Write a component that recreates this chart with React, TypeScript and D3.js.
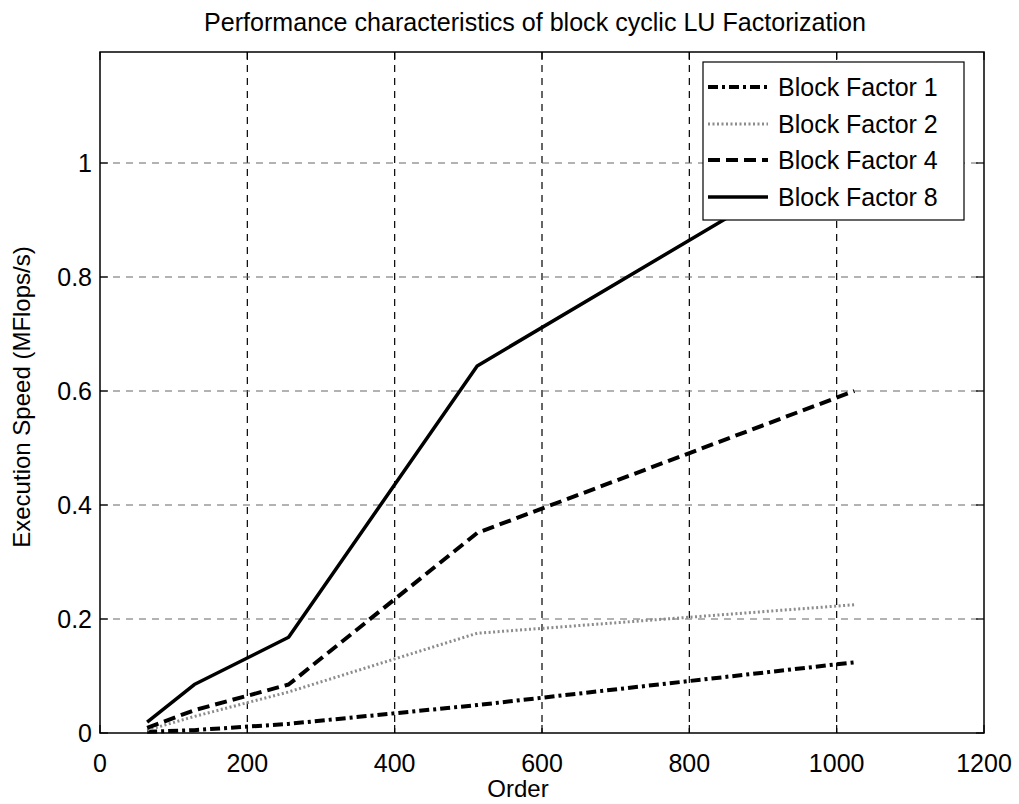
import React from "react";
import * as d3 from "d3";

const orders = [64, 128, 256, 512, 1024];
const bf1 = [0.002, 0.005, 0.016, 0.049, 0.124];
const bf2 = [0.005, 0.029, 0.072, 0.175, 0.225];
const bf4 = [0.009, 0.04, 0.085, 0.351, 0.6];
const bf8 = [0.019, 0.085, 0.168, 0.644, 1.036];
const xTicks = [0, 200, 400, 600, 800, 1000, 1200];
const yTicks = [0, 0.2, 0.4, 0.6, 0.8, 1];
const seriesNames = ["Block Factor 1", "Block Factor 2", "Block Factor 4", "Block Factor 8"];

const styles = [
  { stroke: "#000", width: 4, dash: "10,4,3,4" },
  { stroke: "#8c8c8c", width: 3, dash: "2,2.5" },
  { stroke: "#000", width: 4, dash: "12,6" },
  { stroke: "#000", width: 3.5, dash: "" },
];

export default function App() {
  const left = 100, right = 984, top = 52, bottom = 733;
  const x = d3.scaleLinear().domain([0, 1200]).range([left, right]);
  const y = d3.scaleLinear().domain([0, 1]).range([bottom, 163]);
  const series = [bf1, bf2, bf4, bf8];
  const line = d3
    .line<number>()
    .x((_, i) => x(orders[i]))
    .y((d) => y(d));
  const font = "'Liberation Sans', Arial, Helvetica, sans-serif";
  const legX = 703, legY = 62, legW = 261, legH = 158;
  const rowY = [87, 124, 160, 197];

  return (
    <svg width={1019} height={804} style={{ position: "absolute", left: 0, top: 0, background: "#fff" }} fontFamily={font}>
      <rect x={0} y={0} width={1019} height={804} fill="#fff" />
      {/* grid */}
      {xTicks.slice(1, -1).map((t) => (
        <line key={"gx" + t} x1={x(t)} x2={x(t)} y1={top} y2={bottom} stroke="#000" strokeWidth={1.2} strokeDasharray="7,6" />
      ))}
      {yTicks.slice(1).map((t) => (
        <line key={"gy" + t} x1={left} x2={right} y1={y(t)} y2={y(t)} stroke="#666" strokeWidth={1} strokeDasharray="7,6" />
      ))}
      {/* ticks */}
      {xTicks.map((t) => (
        <g key={"tx" + t}>
          <line x1={x(t)} x2={x(t)} y1={bottom} y2={bottom - 8} stroke="#000" strokeWidth={1.2} />
          <line x1={x(t)} x2={x(t)} y1={top} y2={top + 8} stroke="#000" strokeWidth={1.2} />
          <text x={x(t)} y={772} textAnchor="middle" fontSize={25}>{t}</text>
        </g>
      ))}
      {yTicks.map((t) => (
        <g key={"ty" + t}>
          <line x1={left} x2={left + 8} y1={y(t)} y2={y(t)} stroke="#000" strokeWidth={1.2} />
          <line x1={right} x2={right - 8} y1={y(t)} y2={y(t)} stroke="#000" strokeWidth={1.2} />
          <text x={92} y={y(t) + 9} textAnchor="end" fontSize={25}>{t}</text>
        </g>
      ))}
      {/* series */}
      {series.map((s, i) => (
        <path key={"s" + i} d={line(s) || ""} fill="none" stroke={styles[i].stroke} strokeWidth={styles[i].width} strokeDasharray={styles[i].dash} strokeLinejoin="round" />
      ))}
      {/* axes box */}
      <rect x={left} y={top} width={right - left} height={bottom - top} fill="none" stroke="#000" strokeWidth={1.5} />
      {/* legend */}
      <rect x={legX} y={legY} width={legW} height={legH} fill="#fff" stroke="#000" strokeWidth={1.2} />
      {seriesNames.map((n, i) => (
        <g key={"l" + i}>
          <line x1={708} x2={768} y1={rowY[i]} y2={rowY[i]} stroke={styles[i].stroke} strokeWidth={styles[i].width} strokeDasharray={styles[i].dash} />
          <text x={778} y={rowY[i] + 9} fontSize={25}>{n}</text>
        </g>
      ))}
      {/* titles */}
      <text x={535} y={31} textAnchor="middle" fontSize={25} textLength={662} lengthAdjust="spacingAndGlyphs">
        Performance characteristics of block cyclic LU Factorization
      </text>
      <text x={518} y={797} textAnchor="middle" fontSize={24}>Order</text>
      <text transform="translate(30,397) rotate(-90)" textAnchor="middle" fontSize={24}>Execution Speed (MFlops/s)</text>
    </svg>
  );
}
